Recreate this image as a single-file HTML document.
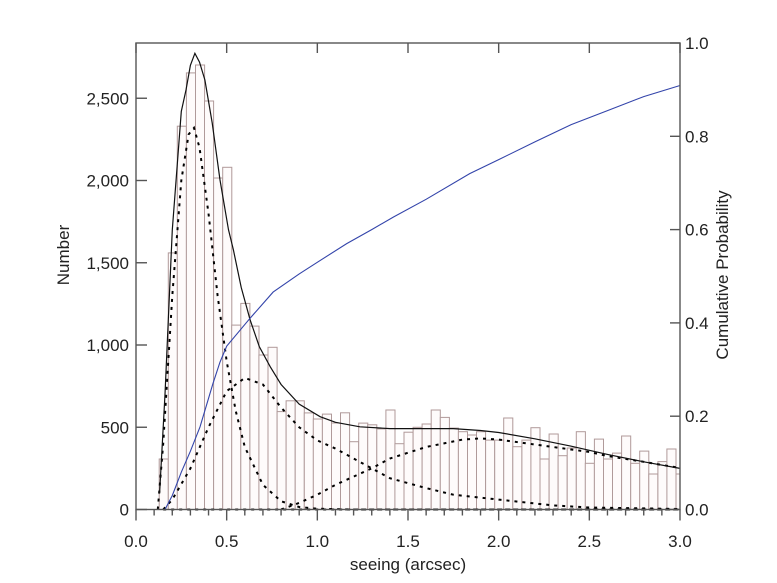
<!DOCTYPE html>
<html><head><meta charset="utf-8"><style>
html,body{margin:0;padding:0;background:#fff;}
svg{display:block;font-family:"Liberation Sans",sans-serif;}
</style></head><body>
<svg id="s" width="777" height="583" viewBox="0 0 777 583" xmlns="http://www.w3.org/2000/svg"></svg>
<script>
const s=document.getElementById('s');
const X0=136,X1=680,Y0=509.5,YT=43;
const px=x=>X0+(X1-X0)*x/3;
const py=c=>Y0-c*0.1645;
const pp=p=>Y0-p*(Y0-YT);
let h='';
const counts=[307,1560,2330,2654,2702,2483,2015,2080,1121,1253,1115,939,986,595,661,661,587,550,580,526,588,412,525,515,490,605,400,470,500,520,605,560,
495,473,453,473,422,422,556,382,422,497,307,459,327,374,473,281,428,307,343,447,281,355,216,291,368,216];
for(let i=0;i<counts.length;i++){
 const a=0.128+0.05*i; let b=a+0.05; if(a>=3) break; if(b>3)b=3;
 const x1=px(a),x2=px(b),y=py(counts[i]);
 h+=`<rect x="${x1.toFixed(1)}" y="${y.toFixed(1)}" width="${(x2-x1).toFixed(1)}" height="${(Y0-y).toFixed(1)}" fill="#fefbfb" stroke="#b09a9a" stroke-width="1"/>`;
}
function line(pts,f,attrs){
 return `<polyline fill="none" points="${pts.map(p=>px(p[0]).toFixed(1)+','+f(p[1]).toFixed(1)).join(' ')}" ${attrs}/>`;
}
const dot='stroke="#000" stroke-width="2" stroke-dasharray="3 5"';
const c1=[[0.12,0],[0.15,400],[0.2,1300],[0.25,2000],[0.29,2280],[0.32,2320],[0.35,2200],[0.4,1800],[0.45,1300],[0.5,900],[0.55,600],[0.6,380],[0.7,150],[0.8,50],[0.9,15],[1.0,5],[1.2,0],[3,0]];
const c2=[[0.15,0],[0.2,60],[0.3,250],[0.4,500],[0.5,720],[0.6,800],[0.7,760],[0.8,620],[0.9,500],[1.0,420],[1.1,370],[1.2,310],[1.4,190],[1.6,130],[1.75,90],[2.0,60],[2.3,25],[2.5,12],[3.0,3]];
const c3=[[0.8,0],[0.9,40],[1.0,90],[1.1,150],[1.3,250],[1.4,310],[1.6,380],[1.8,425],[1.9,432],[2.0,425],[2.2,395],[2.4,365],[2.5,350],[2.6,325],[2.8,290],[3.0,252]];
h+=line([[0.15,0],[3,0]],py,dot);
h+=line(c1,py,dot);h+=line(c2,py,dot);h+=line(c3,py,dot);
const tot=[[0.13,100],[0.16,700],[0.2,1700],[0.25,2420],[0.276,2550],[0.3,2700],[0.325,2773],[0.35,2720],[0.38,2611],[0.42,2350],[0.463,2003],[0.51,1700],[0.537,1578],[0.58,1350],[0.629,1153],[0.68,990],[0.74,868],[0.8,760],[0.9,640],[1.015,564],[1.1,530],[1.235,503],[1.4,492],[1.6,492],[1.75,492],[1.9,480],[2.0,468],[2.2,430],[2.4,385],[2.6,335],[2.8,290],[3.0,250]];
h+=line(tot,py,'stroke="#111" stroke-width="1.2"');
const cum=[[0.16,0],[0.2,0.03],[0.25,0.08],[0.3,0.125],[0.353,0.177],[0.425,0.271],[0.463,0.316],[0.5,0.35],[0.629,0.41],[0.756,0.466],[0.9,0.505],[1.0,0.53],[1.162,0.57],[1.3,0.6],[1.42,0.627],[1.6,0.665],[1.84,0.72],[2.0,0.75],[2.2,0.788],[2.4,0.825],[2.6,0.855],[2.8,0.885],[3.0,0.909]];
h+=line(cum,pp,'stroke="#3344aa" stroke-width="1.1"');
const ax='stroke="#555" stroke-width="1.4"';
h+=`<rect x="${X0}" y="${YT}" width="${X1-X0}" height="${Y0-YT}" fill="none" ${ax}/>`;
for(let i=0;i<=30;i++){const x=px(i/10);const maj=i%5==0;
 h+=`<line x1="${x}" y1="${Y0}" x2="${x}" y2="${Y0+(maj?11:6)}" ${ax}/>`;
 if(maj){h+=`<line x1="${x}" y1="${YT}" x2="${x}" y2="${YT+10}" ${ax}/>`;
 h+=`<text x="${x}" y="547" font-size="17" text-anchor="middle" fill="#222">${(i/10).toFixed(1)}</text>`;}
}
const ll=['0','500','1,000','1,500','2,000','2,500'];
for(let i=0;i<6;i++){const y=py(i*500);
 h+=`<line x1="${X0}" y1="${y}" x2="${X0+11}" y2="${y}" ${ax}/>`;
 h+=`<text x="129" y="${y+6}" font-size="17" text-anchor="end" fill="#222">${ll[i]}</text>`;}
for(let i=0;i<=5;i++){const y=pp(i*0.2);
 h+=`<line x1="${X1-10}" y1="${y}" x2="${X1}" y2="${y}" ${ax}/>`;
 h+=`<text x="685" y="${y+6}" font-size="17" fill="#222">${(i*0.2).toFixed(1)}</text>`;}
h+=`<text x="408" y="570" font-size="17" text-anchor="middle" fill="#222">seeing (arcsec)</text>`;
h+=`<text transform="translate(69,255) rotate(-90)" font-size="17" text-anchor="middle" fill="#222">Number</text>`;
h+=`<text transform="translate(728,275) rotate(-90)" font-size="17" text-anchor="middle" fill="#222">Cumulative Probability</text>`;
s.innerHTML=h;
</script>
</body></html>
